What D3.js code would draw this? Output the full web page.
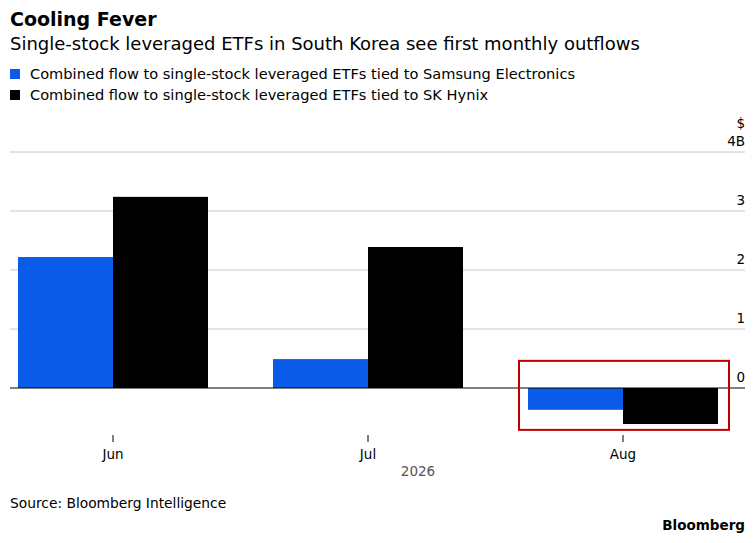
<!DOCTYPE html>
<html><head><meta charset="utf-8">
<script src="https://cdn.jsdelivr.net/npm/d3@7"></script>
<style>body{margin:0;background:#fff;font-family:"DejaVu Sans",Verdana,sans-serif}</style>
</head><body><svg id="c" width="755" height="543"></svg>
<script>
const categories = ["Jun","Jul","Aug"];
const samsung = [2.22, 0.49, -0.37];
const hynix = [3.24, 2.39, -0.61];
const yTicks = [0,1,2,3,4];
const seriesNames = ["Combined flow to single-stock leveraged ETFs tied to Samsung Electronics","Combined flow to single-stock leveraged ETFs tied to SK Hynix"];
const colors = ["#0a5ce8","#000000"];

const svg = d3.select("#c");
const y = d3.scaleLinear().domain([0,4]).range([388,152]);
const x = d3.scalePoint().domain(categories).range([113,623]);
const bw = 95;

svg.append("text").attr("x",10).attr("y",26).attr("font-size",19).attr("font-weight","bold").text("Cooling Fever");
svg.append("text").attr("x",10).attr("y",50).attr("font-size",18).text("Single-stock leveraged ETFs in South Korea see first monthly outflows");
seriesNames.forEach((n,i)=>{
  svg.append("rect").attr("x",10).attr("y",69+i*21).attr("width",10).attr("height",10).attr("fill",colors[i]);
  svg.append("text").attr("x",30).attr("y",79+i*21).attr("font-size",14.6).text(n);
});

yTicks.forEach(t=>{
  if(t>0) svg.append("line").attr("x1",10).attr("x2",745).attr("y1",y(t)).attr("y2",y(t)).attr("stroke","#c8c8c8");
  svg.append("text").attr("x",745).attr("y",y(t)-6).attr("text-anchor","end").attr("font-size",13.5).text(t===4?"4B":t);
});
svg.append("text").attr("x",745).attr("y",y(4)-24).attr("text-anchor","end").attr("font-size",13.5).text("$");

[samsung,hynix].forEach((s,i)=>{
  svg.selectAll(null).data(categories).enter().append("rect")
    .attr("x",d=>x(d)+(i===0?-bw:0)).attr("width",bw)
    .attr("y",(d,j)=>y(Math.max(0,s[j]))).attr("height",(d,j)=>Math.abs(y(s[j])-y(0)))
    .attr("fill",colors[i]);
});
svg.append("line").attr("x1",10).attr("x2",745).attr("y1",y(0)).attr("y2",y(0)).attr("stroke","#000");

categories.forEach(c=>{
  svg.append("line").attr("x1",x(c)).attr("x2",x(c)).attr("y1",435).attr("y2",442).attr("stroke","#000");
  svg.append("text").attr("x",x(c)).attr("y",459).attr("text-anchor","middle").attr("font-size",13.5).text(c);
});
svg.append("text").attr("x",x("Jul")+50).attr("y",476).attr("text-anchor","middle").attr("font-size",13.5).attr("fill","#555").text("2026");

svg.append("rect").attr("x",x("Aug")-104).attr("y",y(0.46)).attr("width",210).attr("height",y(-0.71)-y(0.46))
  .attr("fill","none").attr("stroke","#c00000").attr("stroke-width",2);

svg.append("text").attr("x",10).attr("y",508).attr("font-size",13.8).text("Source: Bloomberg Intelligence");
svg.append("text").attr("x",745).attr("y",530).attr("text-anchor","end").attr("font-size",13.5).attr("font-weight","bold").text("Bloomberg");
</script></body></html>
